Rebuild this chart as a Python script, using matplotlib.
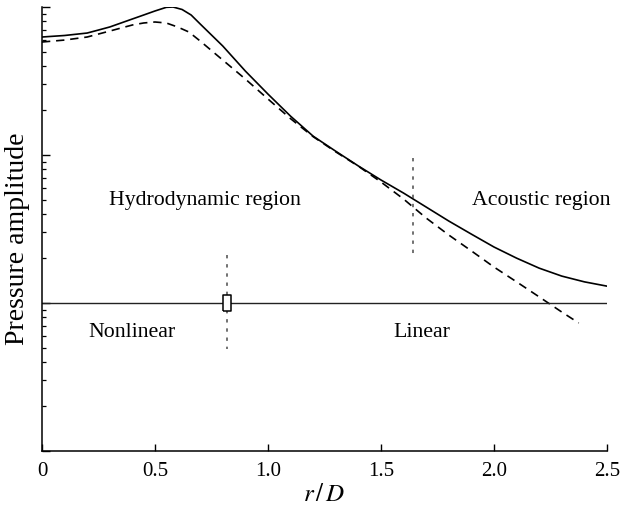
import matplotlib
matplotlib.use('Agg')
import matplotlib.pyplot as plt
import numpy as np
from matplotlib.ticker import LogLocator, NullFormatter

plt.rcParams['font.family'] = ['Liberation Serif', 'DejaVu Serif']
plt.rcParams['mathtext.fontset'] = 'stix'

# full solution (solid) and linear approximation (dashed)
r_full = [0.0, 0.1, 0.2, 0.25, 0.3, 0.4, 0.45, 0.5, 0.55, 0.58, 0.62, 0.66, 0.7, 0.75,
          0.8, 0.9, 1.0, 1.1, 1.2, 1.3, 1.4, 1.5, 1.6, 1.7, 1.8, 1.9, 2.0, 2.1, 2.2,
          2.3, 2.4, 2.5]
p_full = [0.627, 0.642, 0.667, 0.699, 0.733, 0.830, 0.883, 0.940, 0.995, 1.0, 0.962,
          0.883, 0.768, 0.647, 0.545, 0.369, 0.258, 0.183, 0.134, 0.106, 0.0843,
          0.0678, 0.0553, 0.0445, 0.0358, 0.0292, 0.0239, 0.0201, 0.0172, 0.0152,
          0.0139, 0.0130]

r_lin = [0.0, 0.1, 0.2, 0.3, 0.4, 0.45, 0.5, 0.55, 0.6, 0.65, 0.7, 0.8, 0.9, 1.0,
         1.1, 1.2, 1.3, 1.4, 1.5, 1.6, 1.7, 1.8, 1.9, 2.0, 2.1, 2.2, 2.3, 2.375]
p_lin = [0.580, 0.598, 0.627, 0.688, 0.756, 0.780, 0.792, 0.780, 0.733, 0.678, 0.589,
         0.438, 0.326, 0.239, 0.176, 0.133, 0.105, 0.0840, 0.0657, 0.0504, 0.0375,
         0.0288, 0.0225, 0.0175, 0.0139, 0.0110, 0.00869, 0.00733]

# region boundaries
p_ref = 0.01
r_nonlin = 0.82
nonlin_span = [0.0211, 0.00489]
r_acoustic = 1.64
acoustic_span = [0.0954, 0.0201]

fig = plt.figure(figsize=(6.2, 5.1), dpi=100)
ax = fig.add_axes([0.0677, 0.1137, 0.9113, 0.8706])

ax.plot(r_full, p_full, color='black', lw=1.2, solid_joinstyle='round')
ax.plot(r_lin, p_lin, color='black', lw=1.2, linestyle=(0, (5, 3.5)))

ax.axhline(p_ref, color='#222222', lw=1.0)
dots = (0, (2.2, 3.8))
ax.plot([r_nonlin, r_nonlin], nonlin_span, color='#4a4a4a', lw=1.1, linestyle=dots)
ax.plot([r_acoustic, r_acoustic], acoustic_span, color='#4a4a4a', lw=1.1, linestyle=dots)
box = [(-0.25, -0.5), (0.25, -0.5), (0.25, 0.5), (-0.25, 0.5), (-0.25, -0.5)]
ax.plot([r_nonlin], [p_ref], marker=box, markersize=11, mfc='white', mec='black',
        mew=1.1, linestyle='none')

fs = 15.7
ax.text(0.72, 0.0504, 'Hydrodynamic region', fontsize=fs, ha='center', va='center')
ax.text(2.21, 0.0504, 'Acoustic region', fontsize=fs, ha='center', va='center')
ax.text(0.40, 0.0064, 'Nonlinear', fontsize=fs, ha='center', va='center')
ax.text(1.68, 0.0064, 'Linear', fontsize=fs, ha='center', va='center')

ax.set_yscale('log')
ax.set_xlim(0, 2.5)
ax.set_ylim(1e-3, 1)
ax.set_xticks([0, 0.5, 1.0, 1.5, 2.0, 2.5])
ax.set_xticklabels(['0', '0.5', '1.0', '1.5', '2.0', '2.5'])
ax.yaxis.set_major_locator(LogLocator(base=10, numticks=10))
ax.yaxis.set_minor_locator(LogLocator(base=10, subs=np.arange(2, 10), numticks=10))
ax.yaxis.set_major_formatter(NullFormatter())
ax.yaxis.set_minor_formatter(NullFormatter())

for side in ['top', 'right']:
    ax.spines[side].set_visible(False)
for side in ['left', 'bottom']:
    ax.spines[side].set_linewidth(1.1)

ax.tick_params(axis='x', direction='in', length=5, width=1.0, labelsize=15, pad=7)
ax.tick_params(axis='y', which='major', direction='in', length=6, width=1.0)
ax.tick_params(axis='y', which='minor', direction='in', length=3, width=0.9)

ax.set_xlabel('$r\\,/\\,D$', fontsize=18, labelpad=2)
ax.set_ylabel('Pressure amplitude', fontsize=20)
ax.yaxis.set_label_coords(-0.021, 0.48)

fig.savefig('out.png', dpi=100)
